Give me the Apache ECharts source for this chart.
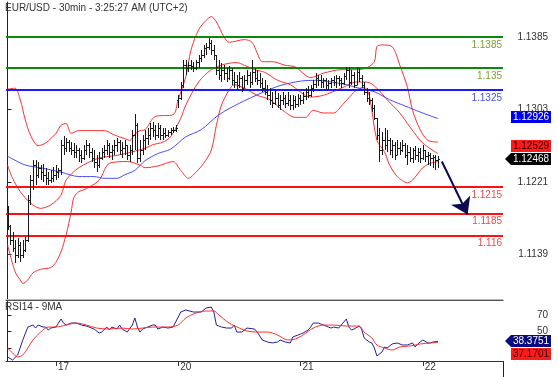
<!DOCTYPE html>
<html><head><meta charset="utf-8">
<script src="https://cdn.jsdelivr.net/npm/echarts@6/dist/echarts.min.js"></script>
<style>html,body{margin:0;padding:0;background:#fff}#c{width:558px;height:377px}</style>
</head><body><div id="c"></div>
<script>
const chartTitle = 'EUR/USD - 30min - 3:25:27 AM (UTC+2)';
const rsiTitle = 'RSI14 - 9MA';
const dayTicks = [19, 67, 115, 163];
const dayLabels = ['17', '20', '21', '22'];
const priceTicks = [1.1139, 1.1221, 1.1303, 1.1385];
const rsiTicks = [30, 50, 70];
const rsiLabelTicks = [50, 70];

const openP = [
1.1173,1.1171,1.1155,1.1146,1.1138,1.1150,1.1138,1.1144,1.1155,1.1200,
1.1223,1.1240,1.1229,1.1237,1.1232,1.1229,1.1225,1.1223,1.1225,1.1229,
1.1232,1.1234,1.1263,1.1259,1.1266,1.1259,1.1257,1.1255,1.1257,1.1251,
1.1248,1.1257,1.1263,1.1255,1.1248,1.1244,1.1240,1.1248,1.1255,1.1257,
1.1263,1.1255,1.1257,1.1263,1.1266,1.1257,1.1259,1.1263,1.1251,1.1257,
1.1274,1.1285,1.1248,1.1257,1.1268,1.1271,1.1274,1.1282,1.1280,1.1274,
1.1282,1.1274,1.1276,1.1274,1.1277,1.1280,1.1280,1.1314,1.1316,1.1331,
1.1353,1.1350,1.1353,1.1352,1.1350,1.1357,1.1361,1.1365,1.1373,1.1374,
1.1378,1.1370,1.1365,1.1348,1.1342,1.1348,1.1344,1.1339,1.1348,1.1336,
1.1334,1.1331,1.1339,1.1327,1.1336,1.1342,1.1334,1.1345,1.1339,1.1336,
1.1333,1.1327,1.1323,1.1319,1.1314,1.1310,1.1316,1.1308,1.1314,1.1316,
1.1310,1.1314,1.1308,1.1314,1.1309,1.1316,1.1314,1.1318,1.1323,1.1319,
1.1327,1.1332,1.1339,1.1336,1.1334,1.1336,1.1331,1.1333,1.1336,1.1334,
1.1339,1.1336,1.1333,1.1341,1.1348,1.1334,1.1342,1.1331,1.1345,1.1339,
1.1331,1.1323,1.1316,1.1314,1.1305,1.1293,1.1274,1.1257,1.1268,1.1263,
1.1268,1.1257,1.1263,1.1251,1.1259,1.1257,1.1263,1.1251,1.1255,1.1248,
1.1257,1.1251,1.1255,1.1248,1.1257,1.1250,1.1251,1.1248,1.1249,1.1246];
const highP = [
1.1194,1.1172,1.1164,1.1155,1.1157,1.1153,1.1155,1.1159,1.1206,1.1229,
1.1246,1.1246,1.1244,1.1240,1.1241,1.1237,1.1232,1.1234,1.1238,1.1240,
1.1237,1.1268,1.1273,1.1271,1.1268,1.1266,1.1265,1.1263,1.1259,1.1257,
1.1263,1.1268,1.1265,1.1259,1.1257,1.1251,1.1255,1.1259,1.1263,1.1268,
1.1265,1.1263,1.1268,1.1271,1.1268,1.1266,1.1268,1.1263,1.1263,1.1280,
1.1298,1.1288,1.1268,1.1274,1.1280,1.1282,1.1288,1.1289,1.1285,1.1288,
1.1285,1.1282,1.1282,1.1280,1.1282,1.1283,1.1285,1.1319,1.1334,1.1359,
1.1359,1.1357,1.1359,1.1357,1.1359,1.1365,1.1370,1.1376,1.1378,1.1384,
1.1382,1.1376,1.1365,1.1359,1.1356,1.1353,1.1350,1.1352,1.1350,1.1345,
1.1342,1.1345,1.1341,1.1342,1.1348,1.1345,1.1359,1.1350,1.1348,1.1344,
1.1339,1.1336,1.1331,1.1327,1.1323,1.1325,1.1322,1.1319,1.1323,1.1319,
1.1323,1.1319,1.1319,1.1318,1.1321,1.1319,1.1323,1.1327,1.1330,1.1331,
1.1336,1.1344,1.1342,1.1342,1.1339,1.1339,1.1336,1.1339,1.1341,1.1342,
1.1341,1.1339,1.1344,1.1351,1.1351,1.1348,1.1345,1.1351,1.1350,1.1342,
1.1334,1.1327,1.1323,1.1316,1.1308,1.1293,1.1282,1.1277,1.1282,1.1280,
1.1271,1.1268,1.1266,1.1268,1.1266,1.1268,1.1265,1.1263,1.1261,1.1259,
1.1262,1.1259,1.1259,1.1263,1.1257,1.1255,1.1254,1.1251,1.1251,1.1250];
const lowP = [
1.1167,1.1150,1.1142,1.1129,1.1135,1.1130,1.1135,1.1142,1.1153,1.1195,
1.1212,1.1217,1.1225,1.1223,1.1221,1.1217,1.1217,1.1220,1.1221,1.1223,
1.1225,1.1229,1.1251,1.1255,1.1255,1.1251,1.1248,1.1248,1.1244,1.1242,
1.1246,1.1251,1.1248,1.1244,1.1237,1.1232,1.1237,1.1246,1.1248,1.1251,
1.1248,1.1246,1.1251,1.1255,1.1251,1.1248,1.1251,1.1246,1.1244,1.1251,
1.1257,1.1242,1.1244,1.1251,1.1257,1.1263,1.1268,1.1272,1.1268,1.1271,
1.1268,1.1268,1.1271,1.1272,1.1274,1.1276,1.1277,1.1305,1.1314,1.1327,
1.1342,1.1345,1.1348,1.1345,1.1348,1.1350,1.1357,1.1361,1.1365,1.1370,
1.1365,1.1359,1.1342,1.1336,1.1334,1.1336,1.1334,1.1336,1.1331,1.1327,
1.1325,1.1327,1.1323,1.1327,1.1331,1.1327,1.1331,1.1334,1.1331,1.1327,
1.1323,1.1319,1.1314,1.1308,1.1305,1.1308,1.1305,1.1302,1.1308,1.1305,
1.1307,1.1302,1.1302,1.1305,1.1306,1.1308,1.1309,1.1314,1.1316,1.1317,
1.1323,1.1327,1.1330,1.1327,1.1327,1.1325,1.1325,1.1327,1.1330,1.1327,
1.1330,1.1327,1.1331,1.1336,1.1327,1.1331,1.1327,1.1331,1.1334,1.1327,
1.1319,1.1311,1.1308,1.1300,1.1291,1.1268,1.1244,1.1251,1.1257,1.1255,
1.1251,1.1248,1.1246,1.1251,1.1251,1.1255,1.1248,1.1240,1.1244,1.1242,
1.1246,1.1244,1.1242,1.1246,1.1244,1.1240,1.1239,1.1237,1.1234,1.1237];
const closeP = [
1.1171,1.1155,1.1146,1.1138,1.1150,1.1138,1.1144,1.1155,1.1200,1.1223,
1.1240,1.1229,1.1237,1.1232,1.1229,1.1225,1.1223,1.1225,1.1229,1.1232,
1.1234,1.1263,1.1259,1.1266,1.1259,1.1257,1.1255,1.1257,1.1251,1.1248,
1.1257,1.1263,1.1255,1.1248,1.1244,1.1240,1.1248,1.1255,1.1257,1.1263,
1.1255,1.1257,1.1263,1.1266,1.1257,1.1259,1.1263,1.1251,1.1257,1.1274,
1.1285,1.1248,1.1257,1.1268,1.1271,1.1274,1.1282,1.1280,1.1274,1.1282,
1.1274,1.1276,1.1274,1.1277,1.1280,1.1280,1.1282,1.1316,1.1331,1.1353,
1.1350,1.1353,1.1352,1.1350,1.1357,1.1361,1.1365,1.1373,1.1374,1.1378,
1.1370,1.1365,1.1348,1.1342,1.1348,1.1344,1.1339,1.1348,1.1336,1.1334,
1.1331,1.1339,1.1327,1.1336,1.1342,1.1334,1.1345,1.1339,1.1336,1.1333,
1.1327,1.1323,1.1319,1.1314,1.1310,1.1316,1.1308,1.1314,1.1316,1.1310,
1.1314,1.1308,1.1314,1.1309,1.1316,1.1314,1.1318,1.1323,1.1319,1.1327,
1.1332,1.1339,1.1336,1.1334,1.1336,1.1331,1.1333,1.1336,1.1334,1.1339,
1.1336,1.1333,1.1341,1.1348,1.1334,1.1342,1.1331,1.1345,1.1339,1.1331,
1.1323,1.1316,1.1314,1.1305,1.1293,1.1274,1.1257,1.1268,1.1263,1.1268,
1.1257,1.1263,1.1251,1.1259,1.1257,1.1263,1.1251,1.1255,1.1248,1.1257,
1.1251,1.1255,1.1248,1.1257,1.1250,1.1251,1.1248,1.1249,1.1246,1.12468];

const bbUpper = [[0,1.1326],[3,1.1327],[5,1.1314],[7,1.1291],[9,1.1274],[12,1.1262],[15,1.1265],[19,1.1276],[21,1.1285],[23,1.1287],[25,1.1276],[28,1.1279],[34,1.1279],[38,1.1279],[42,1.1274],[46,1.1270],[48,1.1268],[50,1.1275],[52,1.1279],[54,1.1280],[58,1.1295],[65,1.1297],[67,1.1314],[70,1.1340],[72,1.1370],[75,1.1393],[78,1.1404],[80,1.1408],[82,1.1402],[85,1.1385],[87,1.1379],[93,1.1382],[96,1.1379],[98,1.1367],[100,1.1357],[104,1.1357],[109,1.1353],[113,1.1351],[119,1.1339],[124,1.1344],[131,1.1348],[137,1.1348],[141,1.1350],[144,1.1357],[145,1.1374],[147,1.1376],[151,1.1374],[154,1.1353],[157,1.1328],[159,1.1302],[162,1.1280],[165,1.1268],[169,1.1266]];
const bbMiddle = [[0,1.1240],[2,1.1225],[5,1.1210],[9,1.1197],[13,1.1191],[17,1.1195],[21,1.1206],[23,1.1223],[28,1.1237],[36,1.1248],[43,1.1251],[49,1.1255],[54,1.1259],[57,1.1263],[61,1.1266],[64,1.1272],[68,1.1293],[70,1.1308],[75,1.1334],[80,1.1348],[85,1.1354],[90,1.1356],[93,1.1353],[97,1.1348],[101,1.1345],[106,1.1336],[111,1.1331],[119,1.1317],[124,1.1319],[131,1.1327],[137,1.1334],[141,1.1334],[145,1.1327],[149,1.1314],[154,1.1299],[158,1.1283],[163,1.1265],[169,1.12529]];
const bbLower = [[0,1.1150],[3,1.1119],[5,1.1110],[6,1.1106],[8,1.1110],[10,1.1118],[13,1.1122],[17,1.1124],[19,1.1130],[21,1.1142],[23,1.1161],[25,1.1187],[26,1.1203],[28,1.1210],[30,1.1212],[32,1.1215],[36,1.1223],[40,1.1242],[47,1.1244],[52,1.1240],[54,1.1237],[59,1.1239],[65,1.1244],[68,1.1234],[71,1.1225],[74,1.1232],[77,1.1242],[80,1.1257],[82,1.1285],[84,1.1308],[87,1.1325],[89,1.1331],[93,1.1327],[98,1.1319],[103,1.1314],[108,1.1302],[113,1.1294],[117,1.1294],[120,1.1302],[124,1.1299],[128,1.1299],[132,1.1310],[137,1.1325],[140,1.1328],[142,1.1319],[145,1.1268],[148,1.1255],[150,1.1240],[153,1.1227],[157,1.1220],[159,1.1223],[163,1.1237],[166,1.1242],[169,1.1244]];
const maLine = [[0,1.1250],[7,1.1240],[13,1.1237],[21,1.1232],[28,1.1227],[34,1.1227],[38,1.1225],[43,1.1225],[46,1.1229],[50,1.1234],[54,1.1245],[59,1.1253],[64,1.1258],[70,1.1272],[76,1.1280],[83,1.1297],[91,1.1310],[100,1.1322],[107,1.1330],[115,1.1335],[121,1.1336],[127,1.1334],[133,1.1331],[138,1.1327],[144,1.1323],[150,1.1314],[156,1.1307],[162,1.1300],[169,1.12926]];

const rsi = [[0,19.7],[2,16.1],[4,22.1],[6,40.1],[8,55.6],[10,58.0],[11,54.4],[12,58.0],[14,55.6],[15,55.6],[16,52.0],[17,54.4],[19,55.6],[21,65.2],[22,60.4],[23,58.0],[25,60.4],[27,60.4],[29,58.0],[31,56.8],[34,53.2],[36,48.4],[37,49.6],[39,55.6],[40,52.0],[41,55.6],[43,53.2],[44,58.0],[45,53.2],[47,49.6],[49,58.0],[50,66.4],[51,55.6],[52,49.6],[53,53.2],[55,55.6],[57,58.0],[58,58.0],[59,53.2],[61,55.6],[63,54.4],[65,55.6],[66,61.6],[67,67.6],[68,73.6],[70,76.0],[73,73.6],[76,73.6],[78,78.4],[80,79.6],[81,73.6],[82,58.0],[84,55.6],[86,54.4],[88,54.4],[89,58.0],[90,49.6],[92,49.6],[94,54.4],[97,53.2],[98,49.6],[100,40.1],[102,37.7],[104,36.5],[106,37.7],[107,40.1],[109,37.7],[111,36.5],[112,43.7],[114,46.0],[115,47.2],[116,48.4],[118,52.0],[119,55.6],[120,60.4],[122,60.4],[123,59.2],[125,56.8],[127,54.4],[128,55.6],[130,54.4],[131,58.0],[133,65.2],[134,55.6],[135,52.0],[136,53.2],[138,56.8],[139,53.2],[140,42.5],[142,37.7],[143,36.5],[144,30.5],[145,20.9],[147,25.7],[148,31.7],[149,30.5],[151,35.3],[153,36.5],[155,34.1],[157,34.1],[159,36.5],[160,31.7],[161,35.3],[163,40.1],[165,36.5],[166,36.5],[167,37.7],[169,38.3751]];
const rsiMa = [[0,30.5],[2,24.5],[4,19.7],[6,22.1],[8,30.5],[10,40.1],[13,49.6],[16,55.6],[19,55.6],[23,58.0],[27,60.4],[31,58.0],[35,54.4],[40,53.2],[45,54.4],[49,53.2],[53,54.4],[57,55.6],[63,55.6],[67,58.0],[70,66.4],[74,72.4],[78,74.8],[81,74.8],[83,70.0],[87,60.4],[91,54.4],[94,50.8],[98,49.6],[102,49.6],[106,46.0],[110,40.1],[113,41.3],[116,46.0],[120,54.4],[124,58.0],[128,58.0],[133,56.8],[138,56.8],[140,49.6],[143,42.5],[145,34.1],[148,30.5],[151,28.1],[154,31.7],[158,32.9],[162,35.3],[166,36.5],[169,37.1701]];

const levelValues = [1.1385, 1.135, 1.1325, 1.1215, 1.1185, 1.116];
const levelLabels = ['1.1385', '1.135', '1.1325', '1.1215', '1.1185', '1.116'];
const lastMa = 1.12926, lastMid = 1.12529, lastClose = 1.12468;
const lastRsi = 38.3751, lastRsiMa = 37.1701;
const arrowFrom = [170.5, 1.1244], arrowTo = [180.6, 1.1184];

// ---------- styling ----------
const levelLineColors = ['#0a8a0a', '#0a8a0a', '#1a1aff', '#ff1010', '#ff1010', '#ff1010'];
const levelTextColors = ['#7f9e2c', '#7f9e2c', '#5050e8', '#f04848', '#f04848', '#f04848'];
const X_MIN = -0.59, X_MAX = 194.5;
const FONT = 'Liberation Sans, Arial, sans-serif';

const ohlc = openP.map((o, i) => [i, o, closeP[i], lowP[i], highP[i]]);

function renderOHLC(params, api) {
  const i = api.value(0);
  const pO = api.coord([i, api.value(1)]);
  const yC = api.coord([i, api.value(2)])[1];
  const yL = api.coord([i, api.value(3)])[1];
  const yH = api.coord([i, api.value(4)])[1];
  const px = Math.round(pO[0]) + 0.5;
  const st = { stroke: '#1a1a1a', lineWidth: 1 };
  return { type: 'group', children: [
    { type: 'line', shape: { x1: px, y1: Math.round(yH), x2: px, y2: Math.max(Math.round(yL), Math.round(yH) + 1) }, style: st },
    { type: 'line', shape: { x1: px - 1.5, y1: Math.round(pO[1]) + 0.5, x2: px, y2: Math.round(pO[1]) + 0.5 }, style: st },
    { type: 'line', shape: { x1: px, y1: Math.round(yC) + 0.5, x2: px + 1.5, y2: Math.round(yC) + 0.5 }, style: st }
  ]};
}

const chart = echarts.init(document.getElementById('c'));
const option = {
  animation: false,
  backgroundColor: '#fff',
  textStyle: { fontFamily: FONT },
  title: [
    { text: chartTitle, left: 5, top: 3, padding: 0, textStyle: { fontSize: 10, fontWeight: 'normal', color: '#333', fontFamily: FONT } },
    { text: rsiTitle, left: 5, top: 302, padding: 0, textStyle: { fontSize: 10, fontWeight: 'normal', color: '#333', fontFamily: FONT } }
  ],
  grid: [
    { left: 6, right: 55, top: 2, height: 297 },
    { left: 6, right: 55, top: 300, height: 61 }
  ],
  xAxis: [
    { gridIndex: 0, type: 'value', min: X_MIN, max: X_MAX, axisLine: { show: true, lineStyle: { color: '#b8b8b8', width: 1 } }, axisTick: { show: false }, axisLabel: { show: false }, splitLine: { show: false } },
    { gridIndex: 1, type: 'value', min: X_MIN, max: X_MAX, position: 'bottom',
      axisLine: { show: true, lineStyle: { color: '#333', width: 1 } },
      axisTick: { show: true, customValues: dayTicks, length: 5, lineStyle: { color: '#333' } },
      axisLabel: { show: true, customValues: dayTicks, formatter: v => dayLabels[dayTicks.indexOf(v)], align: 'left', margin: 1, padding: [0, 0, 0, 2], fontSize: 10, color: '#333', fontFamily: FONT },
      splitLine: { show: false } },
    { gridIndex: 1, type: 'value', min: X_MIN, max: X_MAX, position: 'top',
      axisLine: { show: true, lineStyle: { color: '#555', width: 1 } }, axisTick: { show: false }, axisLabel: { show: false }, splitLine: { show: false } }
  ],
  yAxis: [
    { gridIndex: 0, type: 'value', position: 'right', min: 1.10884, max: 1.14246,
      axisLine: { show: true, lineStyle: { color: '#222', width: 1 } },
      axisTick: { show: true, customValues: priceTicks, length: 4, lineStyle: { color: '#222' } },
      axisLabel: { show: true, customValues: priceTicks, formatter: v => v.toFixed(4), align: 'right', margin: 45, fontSize: 10, color: '#333', fontFamily: FONT },
      splitLine: { show: false } },
    { gridIndex: 1, type: 'value', position: 'right', min: 14.9, max: 88,
      axisLine: { show: true, lineStyle: { color: '#222', width: 1 } },
      axisTick: { show: true, customValues: rsiTicks, length: 4, lineStyle: { color: '#222' } },
      axisLabel: { show: true, customValues: rsiLabelTicks, formatter: v => String(v), align: 'right', margin: 45, fontSize: 10, color: '#333', fontFamily: FONT },
      splitLine: { show: false } }
  ],
  series: [
    { type: 'line', xAxisIndex: 0, yAxisIndex: 0, data: [], silent: true,
      markLine: { silent: true, symbol: 'none', animation: false, precision: 6,
        data: levelValues.map((v, k) => ({ yAxis: v,
          lineStyle: { color: levelLineColors[k], width: 2, type: 'solid', opacity: 1 },
          label: { show: true, position: 'insideEndBottom', formatter: levelLabels[k], color: levelTextColors[k], fontSize: 10, fontFamily: FONT, distance: [1, 3] } })) } },
    { name: 'upper', type: 'line', xAxisIndex: 0, yAxisIndex: 0, data: bbUpper, showSymbol: false, smooth: 0.3, lineStyle: { color: '#ff3030', width: 1 } },
    { name: 'middle', type: 'line', xAxisIndex: 0, yAxisIndex: 0, data: bbMiddle, showSymbol: false, smooth: 0.3, lineStyle: { color: '#ff3030', width: 1 } },
    { name: 'lower', type: 'line', xAxisIndex: 0, yAxisIndex: 0, data: bbLower, showSymbol: false, smooth: 0.3, lineStyle: { color: '#ff3030', width: 1 } },
    { name: 'ma', type: 'line', xAxisIndex: 0, yAxisIndex: 0, data: maLine, showSymbol: false, smooth: 0.3, lineStyle: { color: '#4a4aff', width: 1 } },
    { name: 'price', type: 'custom', xAxisIndex: 0, yAxisIndex: 0, data: ohlc, renderItem: renderOHLC, encode: { x: 0, y: [1, 2, 3, 4] }, z: 5 },
    { type: 'line', xAxisIndex: 0, yAxisIndex: 0, data: [], silent: true, z: 6,
      markLine: { silent: true, animation: false, precision: 6, symbol: ['none', 'arrow'], symbolSize: 16,
        data: [[{ coord: arrowFrom, symbol: 'none' }, { coord: arrowTo, symbol: 'arrow', symbolSize: 16 }]],
        lineStyle: { color: '#0b0b55', width: 2, type: 'solid' },
        itemStyle: { color: '#0b0b55' },
        label: { show: false } } },
    { name: 'rsi', type: 'line', xAxisIndex: 1, yAxisIndex: 1, data: rsi, showSymbol: false, lineStyle: { color: '#22229a', width: 1 } },
    { name: 'rsiMa', type: 'line', xAxisIndex: 1, yAxisIndex: 1, data: rsiMa, showSymbol: false, smooth: 0.3, lineStyle: { color: '#ff3030', width: 1 } }
  ]
};
chart.setOption(option);

// value boxes on the right axes
const yp = (axis, v) => chart.convertToPixel({ yAxisIndex: axis }, v);
const AX = 503, BX = 511, BW = 40, BH = 12;
function rectBox(cy, fill, txt, txtColor) {
  return { type: 'group', z: 100, children: [
    { type: 'rect', shape: { x: BX, y: Math.round(cy - BH / 2), width: BW, height: BH }, style: { fill: fill } },
    { type: 'text', x: BX + BW / 2, y: Math.round(cy) + 0.5, style: { text: txt, fill: txtColor, font: '10px ' + FONT, align: 'center', verticalAlign: 'middle' } }
  ]};
}
function arrowBox(cy, fill, txt, txtColor) {
  const t = Math.round(cy - BH / 2), b = t + BH;
  return { type: 'group', z: 100, children: [
    { type: 'polygon', shape: { points: [[AX + 2, (t + b) / 2], [BX, t], [BX + BW, t], [BX + BW, b], [BX, b]] }, style: { fill: fill } },
    { type: 'text', x: BX + BW / 2, y: (t + b) / 2 + 0.5, style: { text: txt, fill: txtColor, font: '10px ' + FONT, align: 'center', verticalAlign: 'middle' } }
  ]};
}
const cyClose = yp(0, lastClose);
const cyMa = yp(0, lastMa) - 2;
const cyMid = Math.min(yp(0, lastMid), cyClose - BH - 1);
const cyRsi = yp(1, lastRsi);
const cyRsiMa = Math.max(yp(1, lastRsiMa), cyRsi + BH + 1);
chart.setOption({ graphic: [
  { type: 'line', shape: { x1: AX + 0.5, y1: 361, x2: AX + 0.5, y2: 377 }, style: { stroke: '#222', lineWidth: 1 } },
  rectBox(cyMa, '#0000ee', lastMa.toFixed(5), '#fff'),
  rectBox(cyMid, '#ff1a1a', lastMid.toFixed(5), '#300'),
  arrowBox(cyClose, '#000', lastClose.toFixed(5), '#fff'),
  arrowBox(cyRsi, '#0a0a80', lastRsi.toFixed(4), '#fff'),
  rectBox(cyRsiMa, '#ff1a1a', lastRsiMa.toFixed(4), '#300')
]});
</script>
</body></html>
